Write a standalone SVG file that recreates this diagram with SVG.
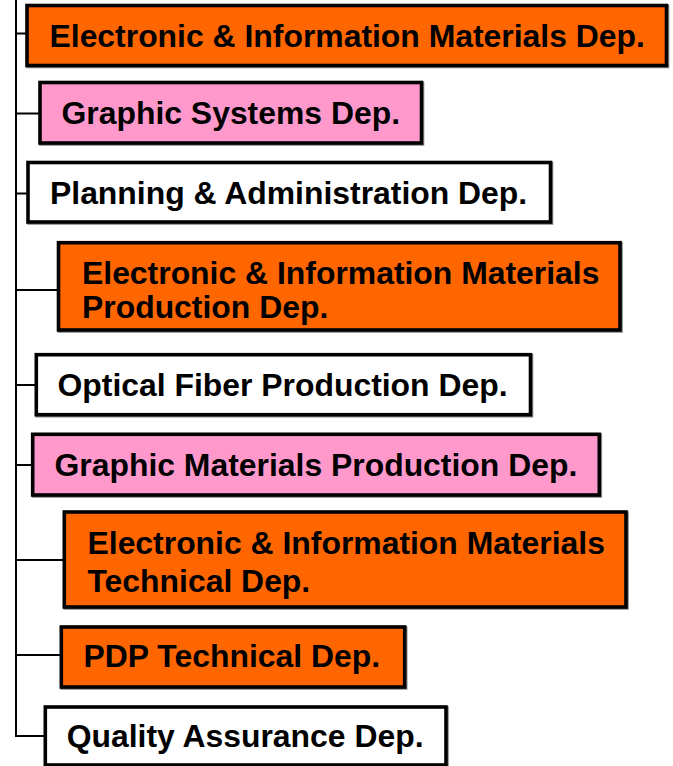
<svg xmlns="http://www.w3.org/2000/svg" width="673" height="766" viewBox="0 0 673 766">
<style>
.box{stroke:#000;stroke-width:3.6}
.sh{fill:none;stroke:#8a8a8a;stroke-width:3.6}
.or{fill:#FF6600}
.pk{fill:#FF99CC}
.wh{fill:#FFFFFF}
.t{font-family:"Liberation Sans",Arial,Helvetica,sans-serif;font-weight:bold;font-size:31.9px;fill:#000}
.ln{stroke:#000;stroke-width:2;fill:none}
</style>
<rect width="673" height="766" fill="#fff"/>
<g id="connectors">
<line class="ln" x1="16" y1="0" x2="16" y2="737"/>
<line class="ln" x1="16" y1="33.5" x2="27" y2="33.5"/>
<line class="ln" x1="16" y1="113.5" x2="40" y2="113.5"/>
<line class="ln" x1="16" y1="193.5" x2="28" y2="193.5"/>
<line class="ln" x1="16" y1="290" x2="58" y2="290"/>
<line class="ln" x1="16" y1="385" x2="36" y2="385"/>
<line class="ln" x1="16" y1="465" x2="32" y2="465"/>
<line class="ln" x1="16" y1="560" x2="64" y2="560"/>
<line class="ln" x1="16" y1="655" x2="61" y2="655"/>
<line class="ln" x1="16" y1="736" x2="45" y2="736"/>
</g>
<g id="n1">
<rect class="sh" x="28" y="6.5" width="639.5" height="60"/>
<rect class="box or" x="27" y="5.5" width="639.5" height="60"/>
<text class="t" x="49.5" y="47">Electronic &amp; Information Materials Dep.</text>
</g>
<g id="n2">
<rect class="sh" x="41" y="83.5" width="381.5" height="60.5"/>
<rect class="box pk" x="40" y="82.5" width="381.5" height="60.5"/>
<text class="t" x="61.5" y="124">Graphic Systems Dep.</text>
</g>
<g id="n3">
<rect class="sh" x="29" y="163.5" width="522.5" height="59.5"/>
<rect class="box wh" x="28" y="162.5" width="522.5" height="59.5"/>
<text class="t" x="50" y="204">Planning &amp; Administration Dep.</text>
</g>
<g id="n4">
<rect class="sh" x="59.5" y="243.7" width="561.5" height="87.3"/>
<rect class="box or" x="58.5" y="242.7" width="561.5" height="87.3"/>
<text class="t" x="82" y="284">Electronic &amp; Information Materials</text>
<text class="t" x="82" y="318">Production Dep.</text>
</g>
<g id="n5">
<rect class="sh" x="37.3" y="355.7" width="494.2" height="60"/>
<rect class="box wh" x="36.3" y="354.7" width="494.2" height="60"/>
<text class="t" x="57.5" y="396">Optical Fiber Production Dep.</text>
</g>
<g id="n6">
<rect class="sh" x="33.7" y="435.3" width="566.6" height="60.7"/>
<rect class="box pk" x="32.7" y="434.3" width="566.6" height="60.7"/>
<text class="t" x="54.5" y="476">Graphic Materials Production Dep.</text>
</g>
<g id="n7">
<rect class="sh" x="65.3" y="513" width="561.7" height="95"/>
<rect class="box or" x="64.3" y="512" width="561.7" height="95"/>
<text class="t" x="87.5" y="553.5">Electronic &amp; Information Materials</text>
<text class="t" x="87.5" y="591.7">Technical Dep.</text>
</g>
<g id="n8">
<rect class="sh" x="62.3" y="628" width="343.4" height="60"/>
<rect class="box or" x="61.3" y="627" width="343.4" height="60"/>
<text class="t" x="83.5" y="667">PDP Technical Dep.</text>
</g>
<g id="n9">
<rect class="sh" x="46.3" y="708" width="400.7" height="58"/>
<rect class="box wh" x="45.3" y="707" width="400.7" height="58"/>
<text class="t" x="66.7" y="747">Quality Assurance Dep.</text>
</g>
</svg>
